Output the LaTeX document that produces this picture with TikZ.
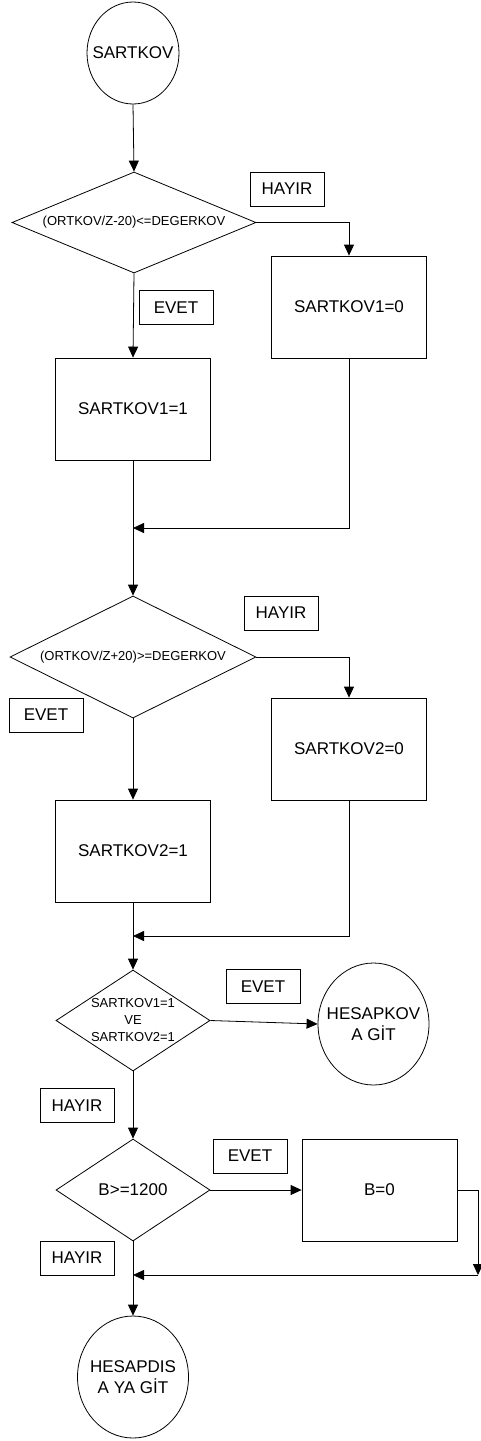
\documentclass[tikz,border=0pt]{standalone}
\usepackage{fontspec}
\setmainfont{Liberation Sans}
\usetikzlibrary{shapes.geometric,arrows.meta}

\begin{document}
\begin{tikzpicture}[x=1pt,y=-1pt,
  line width=0.8pt,
  big/.style={font=\fontsize{17}{21}\selectfont},
  small/.style={font=\fontsize{13}{17}\selectfont},
  proc/.style={draw, rectangle, minimum width=155pt, minimum height=102pt, inner sep=0pt, big},
  tag/.style={draw, rectangle, minimum width=74pt, minimum height=34pt, inner sep=0pt, big},
  dec/.style={draw, diamond, inner sep=0pt, align=center},
  term/.style={draw, ellipse, inner sep=0pt},
  flow/.style={-{Triangle[length=11pt,width=10pt]}},
]
\useasboundingbox (0,0) rectangle (481,1441);

% terminals
\node[term, minimum width=92pt, minimum height=102pt,
      label={[big]center:SARTKOV}] (s) at (133,53) {};
\node[term, minimum width=111pt, minimum height=122pt,
      label={[big, align=center]center:HESAPKOV\\A GİT}] (hk) at (373.5,1024) {};
\node[term, minimum width=111pt, minimum height=122pt,
      label={[big, align=center]center:HESAPDIS\\A YA GİT}] (hd) at (133,1377) {};

% decisions
\node[dec, small, aspect=2.4, minimum width=244pt, minimum height=101pt] (d1) at (134,222.5) {(ORTKOV/Z-20)<=DEGERKOV};
\node[dec, small, aspect=2, minimum width=246pt, minimum height=122pt] (d2) at (133,657) {(ORTKOV/Z+20)>=DEGERKOV};
\node[dec, small, aspect=1.5, minimum width=154pt, minimum height=101pt] (d3) at (133,1020.5) {SARTKOV1=1\\VE\\SARTKOV2=1};
\node[dec, big, aspect=1.5, minimum width=154pt, minimum height=102pt] (d4) at (133,1190) {B>=1200};

% processes
\node[proc] (r10) at (349,307) {SARTKOV1=0};
\node[proc] (r11) at (133,409) {SARTKOV1=1};
\node[proc] (r20) at (349,749) {SARTKOV2=0};
\node[proc] (r21) at (133,851) {SARTKOV2=1};
\node[proc] (b0) at (379.5,1190) {B=0};

% branch tags
\node[tag] (h1) at (287,189) {HAYIR};
\node[tag] (e1) at (176,307.5) {EVET};
\node[tag] (h2) at (281,613) {HAYIR};
\node[tag] (e2) at (46,715) {EVET};
\node[tag] (e3) at (263,986.5) {EVET};
\node[tag] (h3) at (77,1105.5) {HAYIR};
\node[tag] (e4) at (250,1156) {EVET};
\node[tag] (h4) at (77,1258) {HAYIR};

% junction points
\coordinate (m1) at (133,528);
\coordinate (m2) at (133,936);
\coordinate (c1) at (478,1275);
\coordinate (m3) at (133,1275);

% connectors
\draw[flow] (s.south) -- (d1.north);
\draw[flow] (d1.east) -| (r10.north);
\draw[flow] (d1.south) -- (r11.north);
\draw[flow] (r11.south) -- (d2.north);
\draw[flow] (r10.south) |- (m1);
\draw[flow] (d2.east) -| (r20.north);
\draw[flow] (d2.south) -- (r21.north);
\draw[flow] (r21.south) -- (d3.north);
\draw[flow] (r20.south) |- (m2);
\draw[flow] (d3.east) -- (hk.west);
\draw[flow] (d3.south) -- (d4.north);
\draw[flow] (d4.east) -- (b0.west);
\draw[flow] (b0.east) -| (c1);
\draw[flow] (c1) -- (m3);
\draw[flow] (d4.south) -- (hd.north);
\end{tikzpicture}
\end{document}
